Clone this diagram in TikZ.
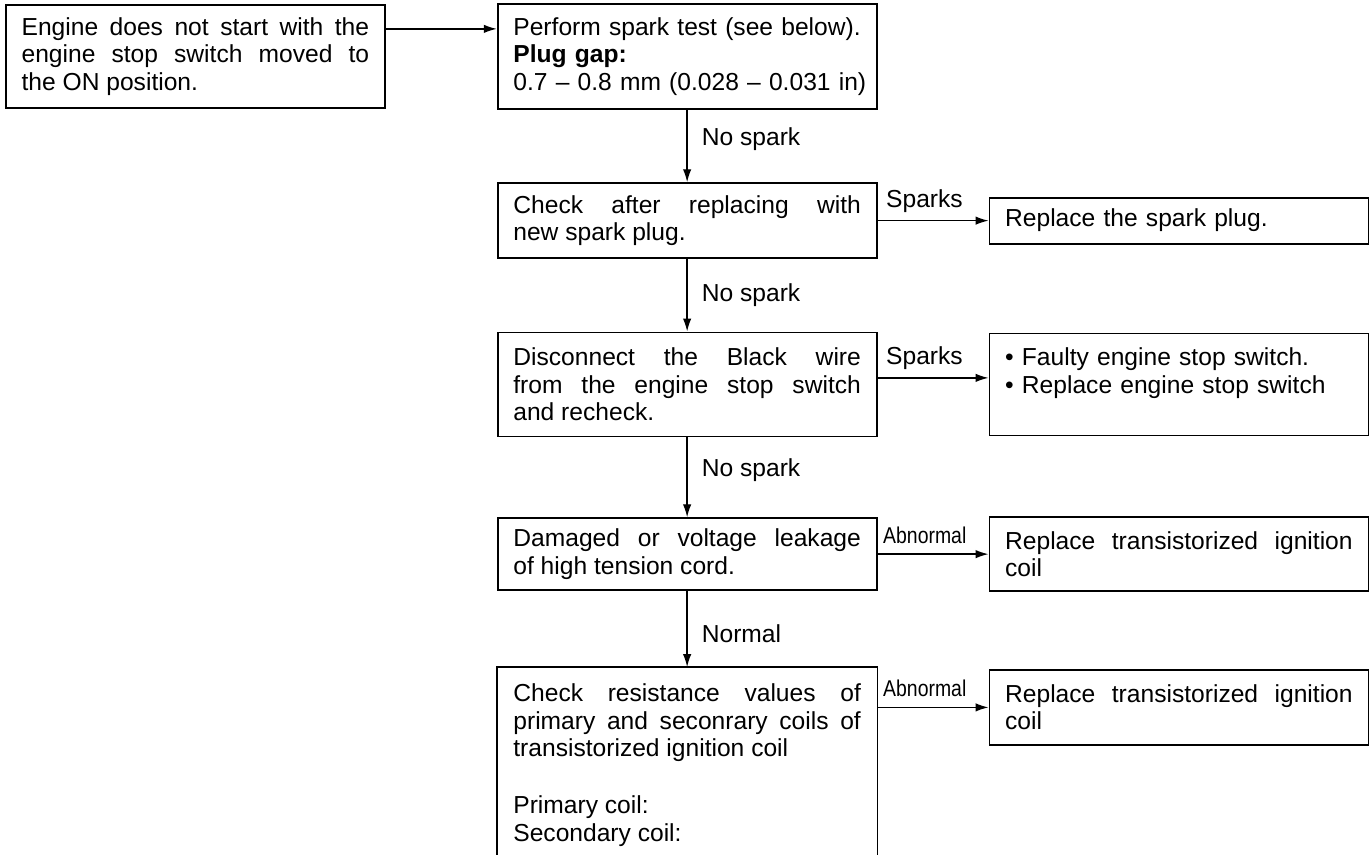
\documentclass[tikz,border=0pt]{standalone}
\usepackage{fontspec}
\setmainfont{Liberation Sans}
\newfontfamily\narrowfont[FakeStretch=0.85]{Liberation Sans}
\usetikzlibrary{arrows.meta,positioning}
\tikzset{
  >={Latex[length=2.6mm,width=1.7mm]},
  txt/.style={font=\fontsize{14}{15.6}\selectfont},
  box/.style={txt, draw, line width=1pt, text width=6.95cm, inner xsep=0.315cm, inner ysep=0.2cm, align=justify},
  opentop/.style={box, draw=none, inner ysep=0.32cm},
  flow/.style={->, line width=0.8pt},
  vlab/.style={txt, right, inner xsep=0.28cm},
  hlab/.style={txt, above right, pos=0, inner xsep=0.16cm, inner ysep=0.15cm},
  abn/.style={font=\narrowfont\fontsize{13}{14}\selectfont, above right, pos=0, inner xsep=0.1cm, inner ysep=0.2cm},
}
\begin{document}
\begin{tikzpicture}[node distance=1.45cm and 2.22cm]
  \useasboundingbox (0,0) rectangle (27.38,-17.1);
  \clip (0,0) rectangle (27.38,-17.1);
  \node[box, minimum height=2.06cm, anchor=north west] (start) at (0.1,-0.08)
    {Engine does not start with the\linebreak engine stop switch moved to\linebreak the ON position.};
  \node[box, minimum height=2.1cm, align=left, right=of start] (test)
    {Perform spark test (see below).\\\textbf{Plug gap:}\\\mbox{0.7 -- 0.8 mm (0.028 -- 0.031 in)}};
  \node[box, minimum height=1.5cm, below=of test] (plug)
    {Check after replacing with\linebreak new spark plug.};
  \node[box, minimum height=0.92cm, align=left, right=of plug] (newplug)
    {Replace the spark plug.};
  \node[box, minimum height=2.08cm, below=of plug] (wire)
    {Disconnect the Black wire\linebreak from the engine stop switch\linebreak and recheck.};
  \node[box, minimum height=2.04cm, align=left, right=of wire] (switch)
    {\textbullet\ Faulty engine stop switch.\\\textbullet\ Replace engine stop switch\\\mbox{}};
  \node[box, minimum height=1.44cm, below=1.6cm of wire] (cord)
    {Damaged or voltage leakage\linebreak of high tension cord.};
  \node[box, minimum height=1.48cm, right=of cord] (coila)
    {Replace transistorized ignition\linebreak coil};
  \node[opentop, below=1.52cm of cord] (resist)
    {Check resistance values of\linebreak primary and seconrary coils of\linebreak transistorized ignition coil\\[17pt]Primary coil:\\Secondary coil:};
  \node[box, minimum height=1.5cm, below right=0.04cm and 2.22cm of resist.north east] (coilb)
    {Replace transistorized ignition\linebreak coil};
  \draw[line width=1pt] ([yshift=-0.6cm]resist.south west) -- (resist.north west)
    -- (resist.north east) -- ([yshift=-0.6cm]resist.south east);
  \draw[flow] ([yshift=0.55cm]start.east) -- ([yshift=0.55cm]test.west);
  \draw[flow] (test) -- node[vlab, pos=0.4] {No spark} (plug);
  \draw[flow] (plug) -- node[vlab] {No spark} (wire);
  \draw[flow] (wire) -- node[vlab, pos=0.41] {No spark} (cord);
  \draw[flow] (cord) -- node[vlab, pos=0.56] {Normal} (resist);
  \draw[flow] (plug) -- node[hlab] {Sparks} (newplug);
  \draw[flow] ([yshift=0.13cm]wire.east) -- node[hlab] {Sparks} ([yshift=0.13cm]switch.west);
  \draw[flow] (cord) -- node[abn] {Abnormal} (coila);
  \draw[flow] (coilb.west -| resist.east) -- node[abn] {Abnormal} (coilb);
\end{tikzpicture}
\end{document}
